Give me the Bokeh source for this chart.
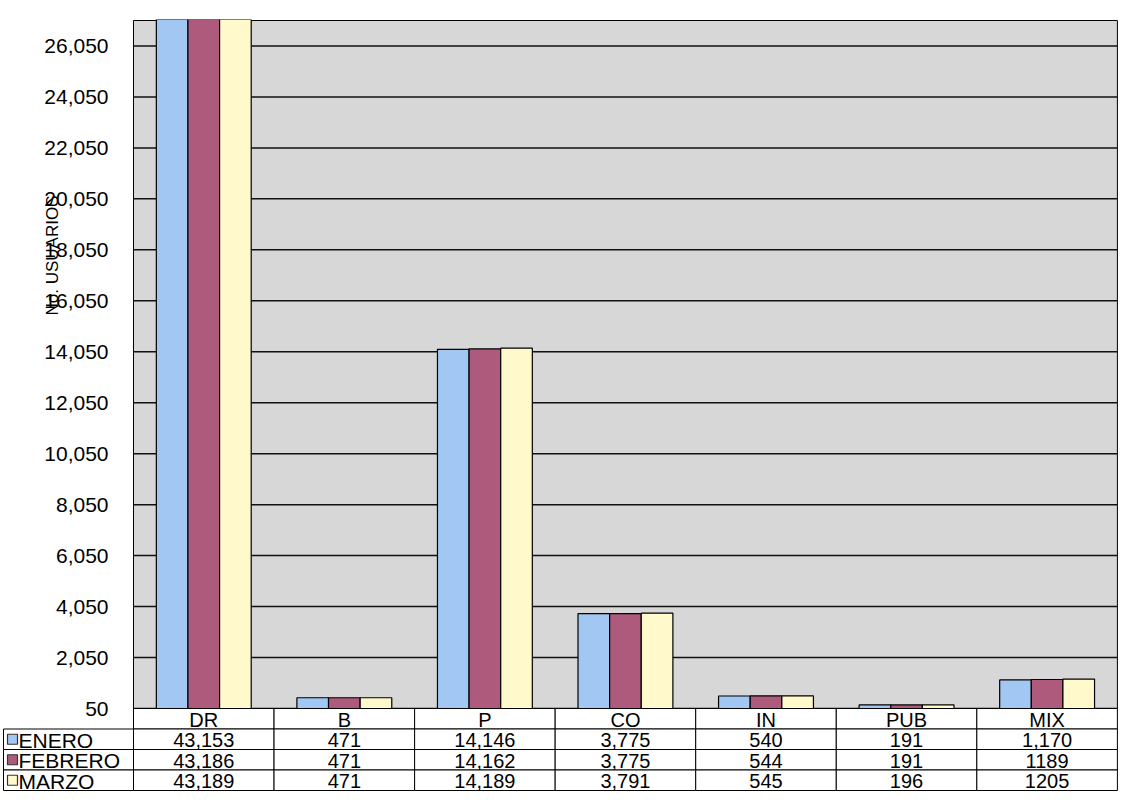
import math
from bokeh.plotting import figure
from bokeh.models import Range1d
from bokeh.core.properties import value
from bokeh.embed import file_html
from bokeh.resources import INLINE

# ---------------- data ----------------
categories = ["DR", "B", "P", "CO", "IN", "PUB", "MIX"]
series = ["ENERO", "FEBRERO", "MARZO"]
enero = [43153, 471, 14146, 3775, 540, 191, 1170]
febrero = [43186, 471, 14162, 3775, 544, 191, 1189]
marzo = [43189, 471, 14189, 3791, 545, 196, 1205]
y_ticks = [50, 2050, 4050, 6050, 8050, 10050, 12050, 14050,
           16050, 18050, 20050, 22050, 24050, 26050]
y_min, y_max = 50, 27050
y_title = "No. USUARIOS"
# cells printed without thousands separator in the data table
plain_cells = {("FEBRERO", "MIX"), ("MARZO", "MIX")}

colors = ["#a2c7f3", "#ad5a7c", "#fff9cc"]
FONT = "Liberation Sans"

# ---------------- layout (pixels) ----------------
W, H = 1120, 795
FR_L, FR_R = 2, 1119          # frame left / right (canvas px)
FR_T, FR_B = 19, 792          # frame top / bottom
PLOT_L = 133                  # left edge of bar area
PLOT_T, PLOT_B = 20, 708      # top / bottom of bar area
ROW_H = 20.5                  # data-table row height

ncat = len(categories)
ppu = (FR_R - PLOT_L) / (ncat + 0.015)
x_start = -(PLOT_L - FR_L) / ppu
x_end = ncat + 0.015
vpp = (y_max - y_min) / (PLOT_B - PLOT_T)     # value per pixel
y_start = y_min - (FR_B - PLOT_B) * vpp
y_end = y_max + (PLOT_T - FR_T) * vpp
tab_start = (FR_B - PLOT_B) / ROW_H
tab_end = -(PLOT_B - FR_T) / ROW_H

p = figure(x_range=Range1d(x_start, x_end), y_range=Range1d(y_start, y_end),
           width=W, height=H, output_backend="svg", toolbar_location=None,
           x_axis_location=None, y_axis_location=None,
           min_border_left=FR_L, min_border_right=W - FR_R,
           min_border_top=FR_T, min_border_bottom=H - FR_B)
p.extra_y_ranges = {"tab": Range1d(tab_start, tab_end)}
p.grid.visible = False
p.outline_line_color = None
p.background_fill_color = "white"
p.border_fill_color = "white"

# plot area background
p.quad(left=[0], right=[ncat], bottom=[y_min], top=[y_max],
       fill_color="#d7d7d7", line_color="black", line_width=1)
# horizontal gridlines
p.segment(x0=[0] * len(y_ticks), x1=[ncat] * len(y_ticks), y0=y_ticks, y1=y_ticks,
          line_color="#111111", line_width=1.5)

# bars
xc = [i + 0.5 for i in range(ncat)]
bw = 0.225
for vals, off, col in zip([enero, febrero, marzo], [-bw, 0, bw], colors):
    p.vbar(x=[c + off for c in xc], top=vals, bottom=y_min, width=bw,
           fill_color=col, line_color="black", line_width=1.2)

# y tick labels
p.text(x=[0] * len(y_ticks), y=y_ticks, text=[f"{t:,}" for t in y_ticks],
       x_offset=-25, text_align="right", text_baseline="middle",
       text_font=value(FONT), text_font_size="21px", text_color="black")

# y axis title (overlapping the tick labels as in the original)
p.text(x=[(52 - PLOT_L) / ppu], y=[y_max - (255 - PLOT_T) * vpp], text=[y_title],
       angle=math.pi / 2, text_align="center", text_baseline="middle",
       text_font=value(FONT), text_font_size="17px", text_color="black")

# ---------------- data table ----------------
cell_l = list(range(ncat))
cell_r = list(range(1, ncat + 1))
p.quad(left=cell_l, right=cell_r, top=0, bottom=1, y_range_name="tab",
       fill_color="white", line_color="black", line_width=1)
p.text(x=xc, y=[0.55] * ncat, text=categories, y_range_name="tab",
       text_align="center", text_baseline="middle", text_font=value(FONT),
       text_font_size="20px", text_color="black")

leg_left = x_start + 1.0 / ppu
for r, (name, vals, col) in enumerate(zip(series, [enero, febrero, marzo], colors)):
    row = r + 1
    p.quad(left=cell_l, right=cell_r, top=row, bottom=row + 1, y_range_name="tab",
           fill_color="white", line_color="black", line_width=1)
    p.quad(left=[leg_left], right=[0], top=[row], bottom=[row + 1], y_range_name="tab",
           fill_color="white", line_color="black", line_width=1)
    txt = [str(v) if (name, c) in plain_cells else f"{v:,}" for v, c in zip(vals, categories)]
    p.text(x=xc, y=[row + 0.55] * ncat, text=txt, y_range_name="tab",
           text_align="center", text_baseline="middle", text_font=value(FONT),
           text_font_size="20px", text_color="black")
    p.scatter(x=[leg_left + 9 / ppu], y=[row + 0.5], y_range_name="tab",
              marker="square", size=10, fill_color=col, line_color="#333333",
              line_width=1.2)
    p.text(x=[leg_left + 15 / ppu], y=[row + 0.55], text=[name], y_range_name="tab",
           text_align="left", text_baseline="middle", text_font=value(FONT),
           text_font_size="21px", text_color="black")

open("out.html", "w").write(file_html(p, INLINE))
